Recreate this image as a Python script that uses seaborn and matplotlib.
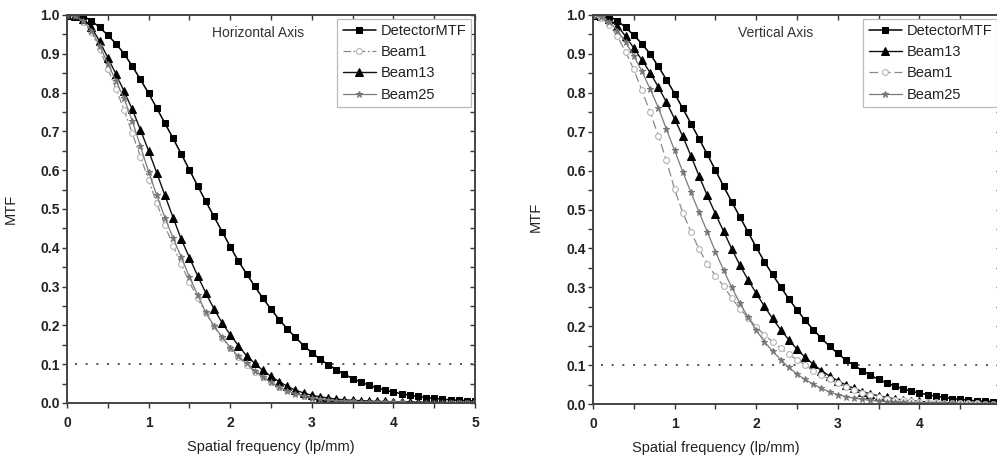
import numpy as np
import pandas as pd
import matplotlib
matplotlib.use("Agg")
import matplotlib.pyplot as plt
from matplotlib.ticker import MultipleLocator
import seaborn as sns

# ---------------- data ----------------
freq = [0.0, 0.1, 0.2, 0.3, 0.4, 0.5, 0.6, 0.7, 0.8, 0.9,
        1.0, 1.1, 1.2, 1.3, 1.4, 1.5, 1.6, 1.7, 1.8, 1.9,
        2.0, 2.1, 2.2, 2.3, 2.4, 2.5, 2.6, 2.7, 2.8, 2.9,
        3.0, 3.1, 3.2, 3.3, 3.4, 3.5, 3.6, 3.7, 3.8, 3.9,
        4.0, 4.1, 4.2, 4.3, 4.4, 4.5, 4.6, 4.7, 4.8, 4.9, 5.0]

detector_mtf = [1.000, 1.000, 0.997, 0.985, 0.968, 0.948, 0.926, 0.900, 0.868, 0.834,
                0.798, 0.760, 0.721, 0.682, 0.642, 0.601, 0.560, 0.520, 0.481, 0.442,
                0.403, 0.366, 0.333, 0.301, 0.270, 0.242, 0.215, 0.191, 0.169, 0.148,
                0.130, 0.113, 0.099, 0.086, 0.074, 0.063, 0.054, 0.046, 0.039, 0.033,
                0.028, 0.024, 0.020, 0.017, 0.014, 0.012, 0.010, 0.008, 0.007, 0.006, 0.005]

# Horizontal axis panel
h_beam1 = [1.000, 0.996, 0.982, 0.955, 0.912, 0.862, 0.810, 0.755, 0.695, 0.635,
           0.575, 0.515, 0.458, 0.405, 0.357, 0.312, 0.270, 0.232, 0.198, 0.168,
           0.142, 0.118, 0.098, 0.081, 0.066, 0.053, 0.042, 0.033, 0.025, 0.019,
           0.014, 0.011, 0.008, 0.006, 0.005, 0.004, 0.003, 0.003, 0.002, 0.002,
           0.002, 0.002, 0.001, 0.001, 0.001, 0.001, 0.001, 0.001, 0.001, 0.001, 0.001]
h_beam13 = [1.000, 0.998, 0.990, 0.968, 0.932, 0.890, 0.848, 0.803, 0.757, 0.704,
            0.650, 0.593, 0.535, 0.478, 0.422, 0.375, 0.328, 0.284, 0.243, 0.207,
            0.176, 0.148, 0.122, 0.102, 0.084, 0.069, 0.055, 0.043, 0.033, 0.026,
            0.020, 0.016, 0.013, 0.010, 0.008, 0.007, 0.006, 0.005, 0.004, 0.004,
            0.003, 0.003, 0.003, 0.002, 0.002, 0.002, 0.002, 0.001, 0.001, 0.001, 0.001]
h_beam25 = [1.000, 0.997, 0.985, 0.960, 0.920, 0.875, 0.830, 0.785, 0.727, 0.662,
            0.596, 0.535, 0.478, 0.425, 0.376, 0.325, 0.279, 0.234, 0.199, 0.170,
            0.143, 0.120, 0.102, 0.083, 0.067, 0.053, 0.041, 0.031, 0.024, 0.018,
            0.013, 0.010, 0.008, 0.006, 0.005, 0.004, 0.003, 0.003, 0.002, 0.002,
            0.002, 0.002, 0.001, 0.001, 0.001, 0.001, 0.001, 0.001, 0.001, 0.001, 0.001]

# Vertical axis panel
v_beam13 = [1.000, 0.998, 0.990, 0.972, 0.945, 0.915, 0.884, 0.852, 0.815, 0.776,
            0.733, 0.688, 0.638, 0.586, 0.536, 0.489, 0.444, 0.399, 0.357, 0.319,
            0.285, 0.251, 0.220, 0.191, 0.165, 0.141, 0.120, 0.102, 0.086, 0.072,
            0.060, 0.049, 0.040, 0.032, 0.026, 0.021, 0.017, 0.013, 0.010, 0.008,
            0.007, 0.005, 0.004, 0.004, 0.003, 0.003, 0.002, 0.002, 0.002, 0.001, 0.001]
v_beam1 = [1.000, 0.993, 0.975, 0.945, 0.905, 0.860, 0.806, 0.750, 0.690, 0.626,
           0.552, 0.492, 0.443, 0.398, 0.360, 0.330, 0.303, 0.272, 0.245, 0.222,
           0.198, 0.178, 0.160, 0.143, 0.128, 0.114, 0.100, 0.086, 0.074, 0.063,
           0.053, 0.044, 0.036, 0.029, 0.023, 0.018, 0.014, 0.011, 0.009, 0.007,
           0.006, 0.005, 0.004, 0.003, 0.003, 0.002, 0.002, 0.002, 0.001, 0.001, 0.001]
v_beam25 = [1.000, 0.996, 0.983, 0.960, 0.930, 0.895, 0.855, 0.810, 0.762, 0.706,
            0.652, 0.597, 0.544, 0.493, 0.443, 0.392, 0.344, 0.300, 0.259, 0.223,
            0.190, 0.160, 0.136, 0.114, 0.094, 0.077, 0.063, 0.051, 0.040, 0.031,
            0.024, 0.019, 0.015, 0.012, 0.009, 0.007, 0.006, 0.005, 0.004, 0.003,
            0.003, 0.002, 0.002, 0.002, 0.002, 0.001, 0.001, 0.001, 0.001, 0.001, 0.001]

threshold = 0.1
panel_titles = ["Horizontal Axis", "Vertical Axis"]
xlabel_text = "Spatial frequency (lp/mm)"
ylabel_text = "MTF"
x_tick_labels_left = ["0", "1", "2", "3", "4", "5"]
x_tick_labels_right = ["0", "1", "2", "3", "4", ""]  # "5" falls outside the visible area

# ---------------- style ----------------
sns.set_style("white")
plt.rcParams["font.family"] = ["Liberation Sans", "DejaVu Sans"]

styles = {
    "DetectorMTF": dict(color="black", marker="s", markersize=5.0, markerfacecolor="black",
                        markeredgecolor="black", linewidth=1.1, linestyle="-"),
    "Beam13": dict(color="#111111", marker="^", markersize=5.8, markerfacecolor="black",
                   markeredgecolor="black", linewidth=1.0, linestyle="-"),
    "Beam1": dict(color="#8a8a8a", marker="o", markersize=4.2, markerfacecolor="white",
                  markeredgecolor="#b5b5b5", markeredgewidth=0.8, linewidth=0.9),
    "Beam25": dict(color="#7a7a7a", marker="*", markersize=4.8, markerfacecolor="#777777",
                   markeredgecolor="#777777", linewidth=0.9, linestyle="-"),
}

fig = plt.figure(figsize=(9.97, 4.71), dpi=100)
W, H = 997.0, 471.0
ax_left = fig.add_axes([67 / W, (H - 403) / H, 408 / W, 388 / H])
ax_right = fig.add_axes([593 / W, (H - 404) / H, 408 / W, 389 / H])

panels = [
    (ax_left, [("DetectorMTF", detector_mtf), ("Beam1", h_beam1),
               ("Beam13", h_beam13), ("Beam25", h_beam25)], (0, (6, 2, 1.5, 2)),
     x_tick_labels_left),
    (ax_right, [("DetectorMTF", detector_mtf), ("Beam13", v_beam13),
                ("Beam1", v_beam1), ("Beam25", v_beam25)], (0, (7, 3)),
     x_tick_labels_right),
]

for i, (ax, series, beam1_ls, xt_labels) in enumerate(panels):
    # reference line at MTF = 0.1
    ax.axhline(threshold, xmin=0.02, xmax=1.0, color="#555555", linewidth=1.4,
               linestyle=(0, (1, 4.5)), zorder=1)
    for name, vals in series:
        df = pd.DataFrame({"freq": freq, "mtf": vals})
        kw = dict(styles[name])
        if name == "Beam1":
            kw["linestyle"] = beam1_ls
        sns.lineplot(data=df, x="freq", y="mtf", ax=ax, label=name, **kw)

    ax.set_xlim(0, 5)
    ax.set_ylim(0, 1.0)
    ax.xaxis.set_minor_locator(MultipleLocator(0.5))
    ax.yaxis.set_minor_locator(MultipleLocator(0.05))
    ax.set_xticks([0, 1, 2, 3, 4, 5])
    ax.set_xticklabels(xt_labels)
    ax.set_yticks([round(0.1 * k, 1) for k in range(11)])
    ax.set_yticklabels([f"{0.1 * k:.1f}" for k in range(11)])

    for lab in ax.get_xticklabels() + ax.get_yticklabels():
        lab.set_fontweight("bold")
        lab.set_fontsize(10)
        lab.set_color("#222222")

    ax.tick_params(axis="both", which="both", color="#333333", width=1.0)
    ax.tick_params(axis="y", which="both", direction="out", length=3.5, pad=1.5, left=True)
    ax.tick_params(axis="x", which="both", direction="out", length=3.5, pad=6, bottom=True)
    # secondary (top / right) inward ticks
    sec_x = ax.secondary_xaxis("top")
    sec_x.xaxis.set_major_locator(MultipleLocator(0.5))
    sec_x.tick_params(direction="in", length=3.5, width=1.0, color="#333333", labeltop=False)
    sec_y = ax.secondary_yaxis("right")
    sec_y.yaxis.set_major_locator(MultipleLocator(0.05))
    sec_y.tick_params(direction="in", length=3.5, width=1.0, color="#333333", labelright=False)
    for sec in (sec_x, sec_y):
        for s in sec.spines.values():
            s.set_visible(False)

    for s in ax.spines.values():
        s.set_visible(True)
        s.set_color("#444444")
        s.set_linewidth(1.4)

    ax.set_xlabel(xlabel_text, fontsize=10.5, color="#222222")
    ax.set_ylabel(ylabel_text, fontsize=10.5, color="#222222")

    ax.text(0.355, 0.953, panel_titles[i], transform=ax.transAxes, fontsize=10,
            color="#333333", ha="left", va="center")

    leg = ax.legend(loc="upper right", fontsize=10.5, frameon=True, fancybox=False,
                    framealpha=1, edgecolor="#bbbbbb", borderaxespad=0.25,
                    handlelength=2.3, handletextpad=0.3, labelspacing=0.5,
                    borderpad=0.35)
    leg.get_frame().set_linewidth(0.9)
    for t in leg.get_texts():
        t.set_color("#222222")

ax_left.xaxis.set_label_coords(0.5, -0.095)
ax_left.yaxis.set_label_coords(-0.12, 0.5)
ax_right.xaxis.set_label_coords(0.30, -0.095)
ax_right.yaxis.set_label_coords(-0.123, 0.48)

fig.savefig("out.png", dpi=100)
